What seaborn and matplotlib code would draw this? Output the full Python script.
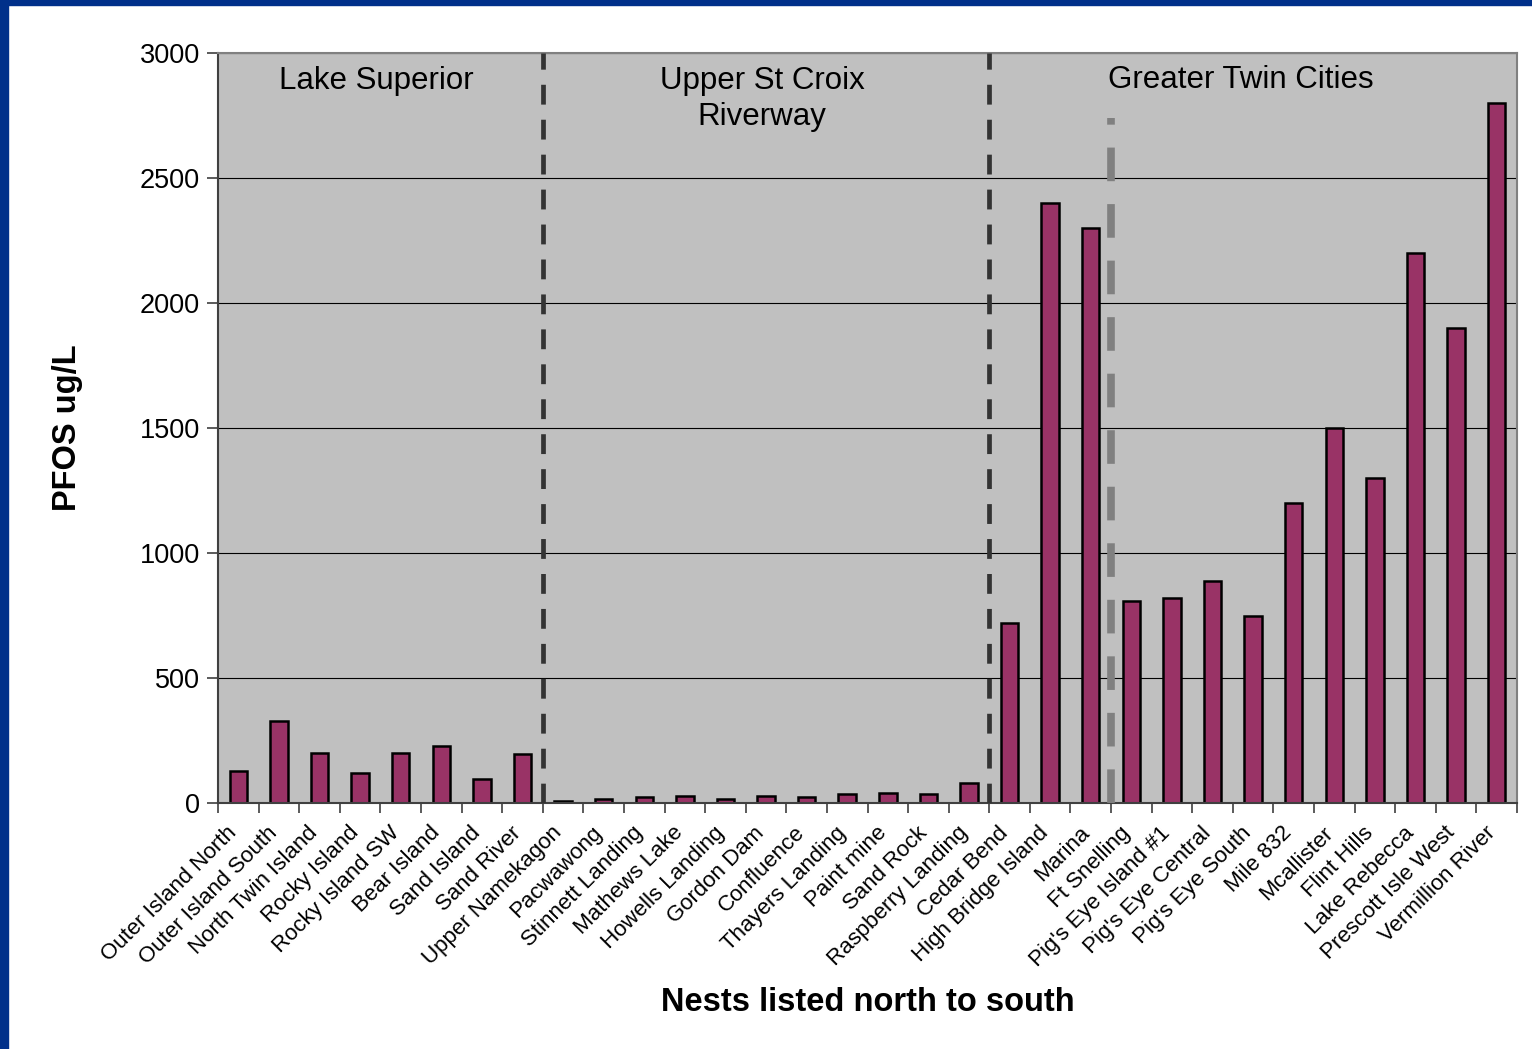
import pandas as pd
import matplotlib.pyplot as plt
import matplotlib.transforms as mtransforms
import seaborn as sns
from matplotlib.patches import Rectangle
from matplotlib.ticker import MultipleLocator

# Dati: nidi da nord a sud e concentrazioni PFOS
nests = ['Outer Island North', 'Outer Island South', 'North Twin Island', 'Rocky Island',
         'Rocky Island SW', 'Bear Island', 'Sand Island', 'Sand River',
         'Upper Namekagon', 'Pacwawong', 'Stinnett Landing', 'Mathews Lake',
         'Howells Landing', 'Gordon Dam', 'Confluence', 'Thayers Landing',
         'Paint mine', 'Sand Rock', 'Raspberry Landing',
         'Cedar Bend', 'High Bridge Island', 'Marina', 'Ft Snelling',
         "Pig's Eye Island #1", "Pig's Eye Central", "Pig's Eye South", 'Mile 832',
         'Mcallister', 'Flint Hills', 'Lake Rebecca', 'Prescott Isle West', 'Vermillion River']
pfos = [130, 330, 200, 120, 200, 230, 95, 195,
        10, 15, 25, 30, 18, 30, 25, 38, 42, 35, 82,
        720, 2400, 2300, 810, 820, 890, 750, 1200, 1500, 1300, 2200, 1900, 2800]
regions = ['Lake Superior', 'Upper St Croix\nRiverway', 'Greater Twin Cities']
region_start = [0, 8, 19]

df = pd.DataFrame({'nest': nests, 'pfos': pfos})

plt.rcParams['font.family'] = ['Liberation Sans', 'DejaVu Sans']

fig = plt.figure(figsize=(15.32, 10.49), dpi=100)
fig.patches.append(Rectangle((0, 0), 8 / 1532, 1, transform=fig.transFigure,
                             color='#00308A', zorder=-1))
fig.patches.append(Rectangle((0, 1 - 5 / 1049), 1, 5 / 1049, transform=fig.transFigure,
                             color='#00308A', zorder=-1))
ax = fig.add_axes([218 / 1532, 1 - 803 / 1049, 1299 / 1532, 750 / 1049])
ax.set_facecolor('#C0C0C0')

sns.barplot(data=df, x='nest', y='pfos', color='#993366', edgecolor='black',
            linewidth=1.8, width=0.43, saturation=1, ax=ax)

ax.set_xlim(-0.5, len(nests) - 0.5)
ax.set_ylim(0, 3000)
ax.yaxis.set_major_locator(MultipleLocator(500))
ax.grid(axis='y', color='black', linewidth=0.8)
ax.set_axisbelow(True)

# Linee di separazione tra le regioni
for s in region_start[1:]:
    ax.axvline(s - 0.5, color='#333333', linewidth=3.4, linestyle=(0, (4.2, 3.2)), zorder=3)
ax.plot([21.5, 21.5], [0, 2740], color='#808080', linewidth=5.5,
        linestyle=(0, (4.4, 3.0)), zorder=3)

# Etichette delle regioni
ends = region_start[1:] + [len(nests)]
shift = [-0.1, -0.1, -0.3]
for name, s, e, d in zip(regions, region_start, ends, shift):
    ax.text((s + e - 1) / 2 + d, 2950, name, ha='center', va='top', fontsize=22.5,
            linespacing=1.3)

for side in ['left', 'bottom']:
    ax.spines[side].set_color('#404040')
    ax.spines[side].set_linewidth(1.5)
for side in ['top', 'right']:
    ax.spines[side].set_color('#808080')
    ax.spines[side].set_linewidth(1.5)

ax.set_xticks(range(len(nests)))
ax.set_xticklabels(nests, rotation=45, ha='right', rotation_mode='anchor', fontsize=16)
ax.tick_params(axis='x', length=0, pad=14)
offset = mtransforms.ScaledTranslation(-12 / 100, 0, fig.dpi_scale_trans)
for lab in ax.get_xticklabels():
    lab.set_transform(lab.get_transform() + offset)
ax.set_xticks([i - 0.5 for i in range(len(nests) + 1)], minor=True)
ax.tick_params(axis='x', which='minor', length=7, width=1.2, color='#404040')
ax.tick_params(axis='y', labelsize=19.5, length=8, width=1.2, color='#404040', pad=5)

ax.set_xlabel('Nests listed north to south', fontsize=23.5, fontweight='bold', labelpad=12)
ax.set_ylabel('PFOS ug/L', fontsize=23.5, fontweight='bold', labelpad=41)

fig.savefig('out.png', dpi=100, facecolor='white')
